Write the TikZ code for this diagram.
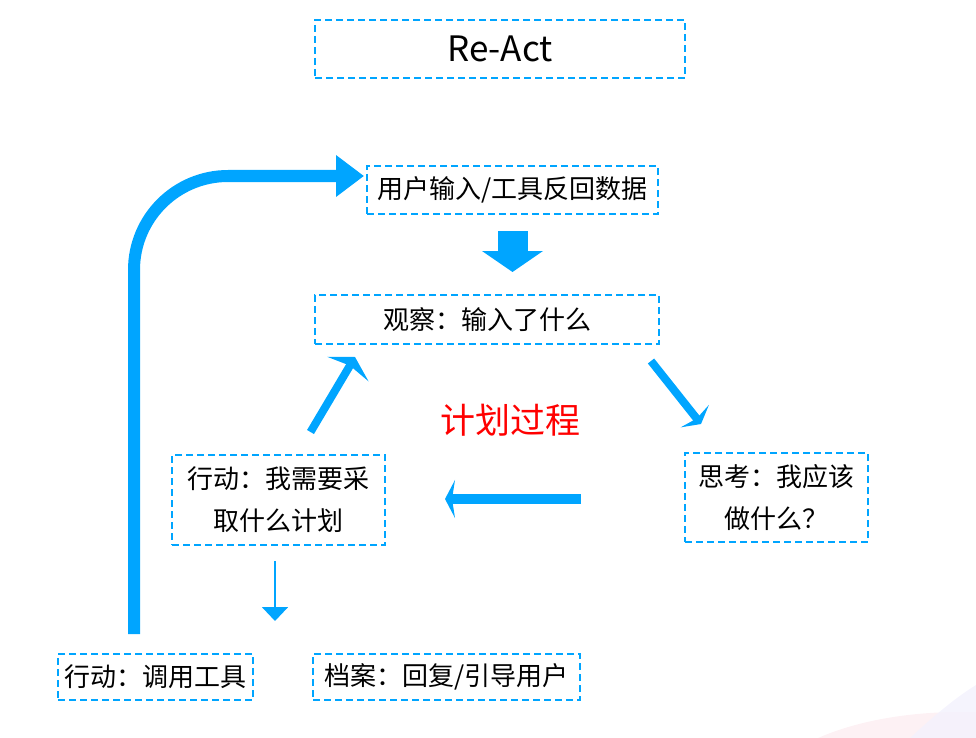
\documentclass[tikz,border=0pt]{standalone}
\usepackage{fontspec}
\setmainfont{Noto Sans CJK SC}
\usepackage{tikz}
\usetikzlibrary{arrows.meta}
\usepackage{xcolor}
\definecolor{reactblue}{RGB}{0,165,255}
\definecolor{fadepink}{RGB}{253,241,244}
\definecolor{fadelilac}{RGB}{243,241,253}

\begin{document}
\begin{tikzpicture}[x=1pt, y=-1pt,
  box/.style={draw=reactblue, line width=2pt, dash pattern=on 7pt off 4pt, inner sep=0pt,
    align=center, font=\fontsize{26}{42}\selectfont, minimum width=#1},
  flow/.style={reactblue, line width=#1},
  thinhead/.style={-{Stealth[length=14pt, width=48pt, inset=4pt]}}]
  \clip (0,0) rectangle (976,738);
  \fill[fadepink] (960,800) ellipse [x radius=200, y radius=88];
  \fill[fadelilac, opacity=0.8] (910,738) .. controls (935,715) and (955,698) .. (976,685) -- (976,738) -- cycle;

  \node[box=370pt, minimum height=58pt, font=\fontsize{35}{40}\selectfont] (title) at (500,49) {Re-Act};
  \node[box=291pt, minimum height=48pt] (input) at (512.5,190) {用户输入/工具反回数据};
  \node[box=344pt, minimum height=49pt] (observe) at (487,319.5) {观察：输入了什么};
  \node[box=183pt, minimum height=89pt] (think) at (776.5,497.5) {思考：我应该\\做什么？};
  \node[box=213pt, minimum height=90pt] (plan) at (278.5,500) {行动：我需要采\\取什么计划};
  \node[box=195pt, minimum height=46pt] (tool) at (155.5,677) {行动：调用工具};
  \node[box=267pt, minimum height=46pt] (reply) at (446.5,677) {档案：回复/引导用户};
  \node[text=red, font=\fontsize{35}{40}\selectfont] (cycle) at (510,420) {计划过程};

  \draw[flow=30pt, -{Triangle[length=21pt, width=60pt]}, shorten <=16pt, shorten >=22pt]
    (input.south) -- (input.south |- observe.north);
  \draw[flow=8pt, thinhead] ([shift={(32,-22)}]plan.north) -- ([shift={(41,12)}]observe.south west);
  \draw[flow=8pt, -{Stealth[length=10pt, width=36pt, inset=3pt]}]
    ([shift={(-9,16)}]observe.south east) -- ([shift={(17,-28)}]think.north west);
  \draw[flow=10pt, -{Stealth[length=10pt, width=38pt, inset=3pt]}]
    ([shift={(-103,1.5)}]think.west) -- ([shift={(59,-1)}]plan.east);
  \draw[flow=2pt, -{Triangle[length=14pt, width=26pt]}]
    ([shift={(-3.5,15)}]plan.south) -- ([shift={(-3.5,75)}]plan.south);
  \draw[flow=12pt, rounded corners=94pt, -{Triangle[length=28pt, width=40pt]}]
    ([shift={(-21.5,-19)}]tool.north) |- ([shift={(-2,-14)}]input.west);
\end{tikzpicture}
\end{document}
